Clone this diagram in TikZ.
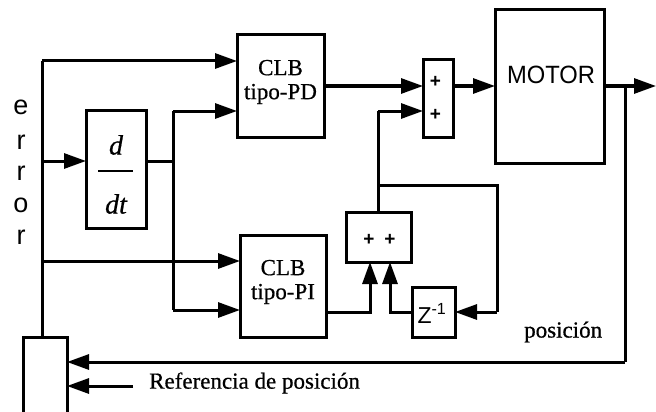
\documentclass[tikz,border=0pt]{standalone}
\usepackage{fontspec}
\setmainfont{Liberation Serif}[FakeBold=0.6]
\setsansfont{Liberation Sans}
\usetikzlibrary{arrows.meta,calc}
\begin{document}
\begin{tikzpicture}[x=1pt,y=-1pt,
  blk/.style={draw,line width=3pt,inner sep=0pt,outer sep=0pt},
  wire/.style={line width=3pt},
  arr/.style={wire,-{Triangle[length=22pt,width=15pt]}},
  clbtxt/.style={font=\fontsize{23}{28}\selectfont,align=center},
  sanstxt/.style={font=\sffamily\fontsize{27}{28}\selectfont},
  plus/.style={font=\sffamily\bfseries\fontsize{19}{19}\selectfont,inner sep=0pt}]
\useasboundingbox (0,0) rectangle (656,412);
% blocks
\node[blk,minimum width=87pt,minimum height=102pt] (pd) at (280.5,86) {};
\node[clbtxt] (pdt) at (280.5,82) {CLB\\[-4pt]tipo-PD};
\node[blk,minimum width=86pt,minimum height=102pt] (pi) at (283,286) {};
\node[clbtxt] (pit) at (283,282) {CLB\\[-4pt]tipo-PI};
\node[blk,minimum width=60pt,minimum height=118pt] (dd) at (116,169) {};
\node[font=\itshape\fontsize{28}{28}\selectfont,inner sep=0pt] (dn) at (116,145) {d};
\node[font=\itshape\fontsize{28}{28}\selectfont,inner sep=0pt] (dt) at (116,204) {dt};
\draw[line width=1.6pt] ($(dd.west)+(12,2)$) coordinate (b1) -- ($(dd.east)+(-13,2)$) coordinate (b2);
\node[blk,minimum width=30pt,minimum height=77pt] (s1) at (438,98.5) {};
\node[plus] (p1) at (435.5,82) {+};
\node[plus] (p2) at (435.5,115) {+};
\node[blk,minimum width=109pt,minimum height=153pt] (mot) at (549.5,86.5) {};
\node[font=\sffamily\fontsize{25}{28}\selectfont\addfontfeatures{FakeStretch=0.95}] (mott) at (551,75) {MOTOR};
\node[blk,minimum width=65pt,minimum height=50pt] (s2) at (378.5,237) {};
\node[plus] (p3) at (369,240) {+};
\node[plus] (p4) at (390,240) {+};
\node[blk,minimum width=43pt,minimum height=50pt] (zz) at (433.5,312) {};
\node[font=\sffamily\fontsize{23}{23}\selectfont,inner sep=0pt] (zt) at (432,313) {Z\textsuperscript{-1}};
\node[blk,minimum width=44pt,minimum height=85pt] (lb) at (45,380) {};
% texts
\foreach \c/\yy/\nm in {e/107/l1,r/142/l2,r/173/l3,o/205/l4,r/237/l5}
  \node[sanstxt,inner sep=0pt] (\nm) at (21,\yy) {\c};
\node[font=\fontsize{23}{23}\selectfont,anchor=west,inner sep=0pt] (ref) at (149,383) {Referencia de posición};
\node[font=\fontsize{23}{23}\selectfont,anchor=west,inner sep=0pt] (pos) at (524,332) {posición};
% coordinates
\coordinate (eTop) at (42,61);
\coordinate (eD) at (42,161);
\coordinate (eI) at (42,261);
\coordinate (j1) at (173,161);
\coordinate (jPD) at (173,111);
\coordinate (jPI) at (173,310);
\coordinate (m1) at (625,86);
\coordinate (fb) at (625,362);
\coordinate (outEnd) at (656,86);
\coordinate (k1) at (378,111);
\coordinate (k2) at (378,185);
\coordinate (k3) at (497,185);
\coordinate (k4) at (497,312);
\coordinate (q1) at (370,312);
\coordinate (q2) at (390,312);
\coordinate (refS) at (133,386);
% wires
\draw[wire] (lb.north -| eTop) -- (eTop);
\draw[arr] (eTop) -- (eTop -| pd.west);
\draw[arr] (eD) -- (eD -| dd.west);
\draw[arr] (eI) -- (eI -| pi.west);
\draw[wire] (j1 -| dd.east) -- (j1);
\draw[wire] (jPD) -- (jPI);
\draw[arr] (jPD) -- (jPD -| pd.west);
\draw[arr] (jPI) -- (jPI -| pi.west);
\draw[arr] (pd.east |- 0,86) -- (s1.west |- 0,86);
\draw[arr] (s1.east |- 0,86) -- (mot.west |- 0,86);
\draw[arr] (mot.east |- 0,86) -- (outEnd);
\draw[wire] (m1) -- (fb);
\draw[arr] (fb) -- (fb -| lb.east);
\draw[arr] (refS) -- (refS -| lb.east);
\draw[wire] (s2.north -| k1) -- (k1);
\draw[arr] (k1) -- (k1 -| s1.west);
\draw[wire] (k2) -- (k3) -- (k4);
\draw[arr] (k4) -- (k4 -| zz.east);
\draw[arr] (pi.east |- q1) -- (q1) -- (q1 |- s2.south);
\draw[arr] (zz.west |- q2) -- (q2) -- (q2 |- s2.south);
\end{tikzpicture}
\end{document}
